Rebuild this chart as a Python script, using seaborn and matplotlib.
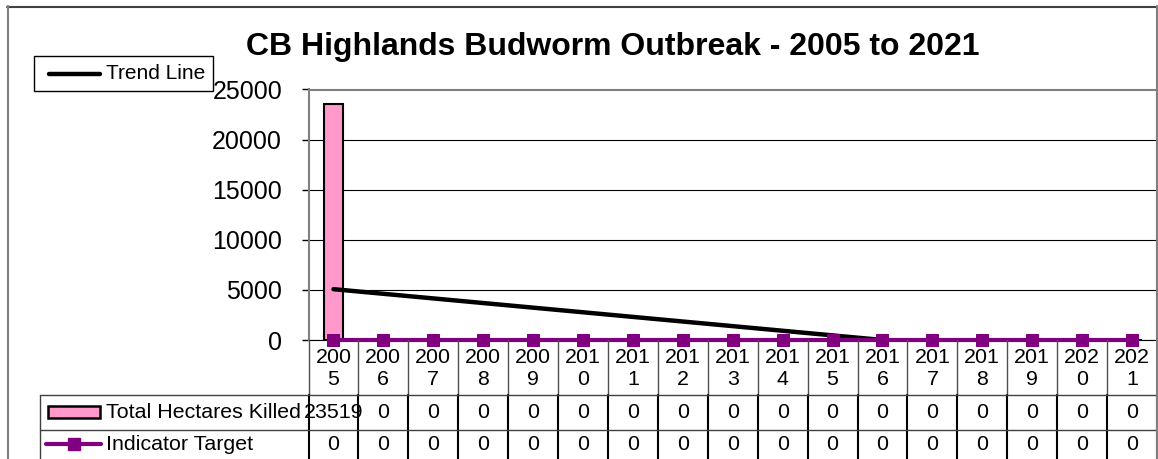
import numpy as np
import pandas as pd
import matplotlib
matplotlib.use("Agg")
import matplotlib.pyplot as plt
from matplotlib.patches import Rectangle
import seaborn as sns

# データ
years = [2005, 2006, 2007, 2008, 2009, 2010, 2011, 2012, 2013,
         2014, 2015, 2016, 2017, 2018, 2019, 2020, 2021]
killed = [23519, 0, 0, 0, 0, 0, 0, 0, 0, 0, 0, 0, 0, 0, 0, 0, 0]
target = [0, 0, 0, 0, 0, 0, 0, 0, 0, 0, 0, 0, 0, 0, 0, 0, 0]
trend_years = [2005, 2016]
trend_values = [5073, 0]

title = "CB Highlands Budworm Outbreak - 2005 to 2021"
pink = "#FF99CC"
purple = "#800080"

sns.set_style("white")
plt.rcParams["font.family"] = ["Liberation Sans", "DejaVu Sans"]
plt.rcParams["text.color"] = "black"

W, H = 1158, 459
fig = plt.figure(figsize=(W / 100, H / 100), dpi=100)
fig.patch.set_facecolor("white")

# plot area in pixels
PL, PR, PT, PB = 308.5, 1157, 89.5, 340


def fx(px):
    return px / W


ax = fig.add_axes([fx(PL), 1 - PB / H, fx(PR - PL), (PB - PT) / H])
df = pd.DataFrame({"year": [str(y) for y in years], "killed": killed})
sns.barplot(
    data=df, x="year", y="killed", color=pink, width=0.38, saturation=1,
    edgecolor="black", linewidth=1.5, ax=ax, zorder=2,
)

trend_pos = [years.index(y) for y in trend_years]
sns.lineplot(x=trend_pos, y=trend_values, color="black", linewidth=3.2,
             solid_capstyle="round", ax=ax, zorder=3)
sns.lineplot(x=np.arange(len(years)), y=target, color=purple, linewidth=3,
             marker="s", markersize=8, markeredgecolor=purple,
             ax=ax, zorder=4, clip_on=False)

ax.set_xlim(-0.5, len(years) - 0.5)
ax.set_ylim(0, 25000)
ax.set_yticks(range(0, 25001, 5000))
ax.set_xticks([])
ax.set_xlabel("")
ax.set_ylabel("")
ax.yaxis.grid(True, color="black", linewidth=0.8)
ax.set_axisbelow(True)
ax.tick_params(axis="y", left=True, length=5, width=1, pad=14,
               labelsize=18, color="black", labelcolor="black")
for s in ["left", "top", "right"]:
    ax.spines[s].set_color("#808080")
    ax.spines[s].set_linewidth(1.5)
ax.spines["bottom"].set_color("black")

# --- データテーブル ---
tab = fig.add_axes([fx(PL), 0, fx(PR - PL), (H - PB) / H])
tab.set_xlim(-0.5, len(years) - 0.5)
tab.set_ylim(H, PB)
tab.axis("off")
colw = (PR - PL) / len(years)


def px2x(px):
    return (px - PL) / colw - 0.5


fs = 15.4
for i, y in enumerate(years):
    s = str(y)
    tab.text(i, 368, s[:3] + "\n" + s[3:], ha="center", va="center",
             fontsize=fs, linespacing=1.2)
    tab.text(i, 412, str(killed[i]), ha="center", va="center", fontsize=fs)
    tab.text(i, 444, str(target[i]), ha="center", va="center", fontsize=fs)

for b in np.arange(-0.5, len(years)):
    tab.plot([b, b], [PB, 395], color="#505050", lw=1, clip_on=False)
    tab.plot([b, b], [395, H], color="black", lw=1.5, clip_on=False)
for yy in [395, 429.5]:
    tab.plot([px2x(40), len(years) - 0.5], [yy, yy], color="#404040", lw=1,
             clip_on=False)
tab.plot([px2x(40), px2x(40)], [395, H], color="#404040", lw=1, clip_on=False)

tab.add_patch(Rectangle((px2x(48), 405.5), px2x(100) - px2x(48), 12,
                        facecolor=pink, edgecolor="black", lw=1.8,
                        clip_on=False))
tab.text(px2x(106), 412, "Total Hectares Killed", ha="left", va="center",
         fontsize=fs, clip_on=False)
tab.plot([px2x(46), px2x(101)], [444, 444], color=purple, lw=3,
         clip_on=False)
tab.plot([px2x(73.5)], [444], marker="s", markersize=8, color=purple,
         clip_on=False)
tab.text(px2x(106), 444, "Indicator Target", ha="left", va="center",
         fontsize=fs, clip_on=False)

# --- 外枠・タイトル・凡例 ---
ov = fig.add_axes([0, 0, 1, 1])
ov.set_xlim(0, W)
ov.set_ylim(H, 0)
ov.axis("off")
ov.plot([7, 1157], [6.5, 6.5], color="#404040", lw=1.5, clip_on=False)
ov.plot([7.5, 7.5], [6, H], color="#808080", lw=1.5, clip_on=False)
ov.plot([1157, 1157], [6, H], color="#808080", lw=1.5, clip_on=False)
ov.text(613, 47, title, ha="center", va="center", fontsize=23,
        fontweight="bold", color="black")
ov.add_patch(Rectangle((34, 56), 179, 35, facecolor="white",
                       edgecolor="black", lw=1))
ov.plot([49, 100], [73.5, 73.5], color="black", lw=3.2,
        solid_capstyle="round")
ov.text(106, 73.5, "Trend Line", ha="left", va="center", fontsize=15,
        color="black")

fig.savefig("out.png", dpi=100, facecolor="white")
